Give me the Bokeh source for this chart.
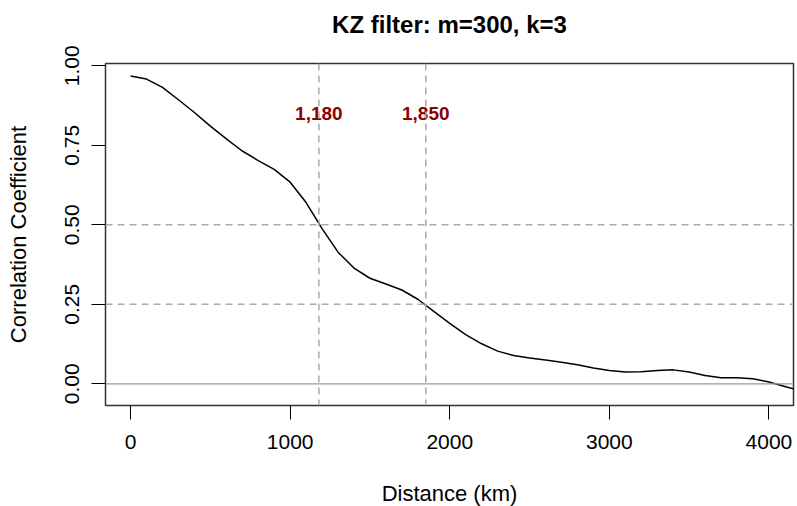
from bokeh.plotting import figure
from bokeh.models import Range1d, Span, FixedTicker, ColumnDataSource, NumeralTickFormatter, LinearAxis
from bokeh.core.properties import value
from bokeh.embed import file_html
from bokeh.resources import INLINE

# ---- data ----
distance_km = [0, 100, 200, 300, 400, 500, 600, 700, 800, 900, 1000, 1100, 1200, 1300,
               1400, 1500, 1600, 1700, 1800, 1900, 2000, 2100, 2200, 2300, 2400, 2500,
               2600, 2700, 2800, 2900, 3000, 3100, 3200, 3300, 3400, 3500, 3600, 3700,
               3800, 3900, 4000, 4100, 4200]
correlation = [0.968, 0.958, 0.932, 0.893, 0.853, 0.810, 0.770, 0.732, 0.702, 0.674,
               0.634, 0.570, 0.488, 0.414, 0.364, 0.332, 0.314, 0.295, 0.266, 0.228,
               0.190, 0.155, 0.126, 0.103, 0.089, 0.081, 0.075, 0.068, 0.060, 0.050,
               0.042, 0.037, 0.038, 0.042, 0.044, 0.037, 0.026, 0.019, 0.019, 0.016,
               0.006, -0.008, -0.022]
threshold_km = [1180, 1850]
threshold_labels = ["1,180", "1,850"]
threshold_corr = [0.5, 0.25]
x_ticks = [0, 1000, 2000, 3000, 4000]
y_ticks = [0.0, 0.25, 0.5, 0.75, 1.0]
title_text = "KZ filter: m=300, k=3"
x_label = "Distance (km)"
y_label = "Correlation Coefficient"

FONT = "Liberation Sans"

p = figure(frame_width=688, frame_height=342,
           x_range=Range1d(-157, 4154), y_range=Range1d(-0.068, 1.007),
           output_backend="svg", toolbar_location=None,
           min_border_left=105, min_border_right=3, min_border_top=63, min_border_bottom=99)
p.background_fill_color = "white"
p.border_fill_color = "white"
p.outline_line_color = "#333333"
p.outline_line_width = 1.5
p.xgrid.visible = False
p.ygrid.visible = False

xa = p.below[0]
ya = p.left[0]

for ax in (xa, ya):
    ax.axis_line_color = None
    ax.major_tick_line_color = "black"
    ax.major_tick_line_width = 1
    ax.major_tick_out = 14
    ax.major_tick_in = 0
    ax.minor_tick_line_color = None
    ax.major_label_text_font = FONT
    ax.major_label_text_font_size = "21px"
    ax.major_label_text_color = "black"
    ax.axis_label_text_font = FONT
    ax.axis_label_text_font_size = "22px"
    ax.axis_label_text_font_style = "normal"
    ax.axis_label_text_color = "black"

xa.ticker = FixedTicker(ticks=x_ticks)
ya.ticker = FixedTicker(ticks=y_ticks)
ya.formatter = NumeralTickFormatter(format="0.00")
ya.major_label_orientation = "vertical"
xa.axis_label = x_label
ya.axis_label = y_label
xa.major_label_standoff = 15
xa.axis_label_standoff = 29
ya.major_label_standoff = 12
ya.axis_label_standoff = 32

# title: an above axis that carries only its label (keeps the title well above the frame)
title_axis = LinearAxis(ticker=FixedTicker(ticks=[]), axis_label=title_text,
                        axis_line_color=None, major_tick_line_color=None,
                        minor_tick_line_color=None, major_tick_out=0, major_tick_in=0,
                        major_label_standoff=0, axis_label_standoff=26,
                        axis_label_text_font=FONT, axis_label_text_font_size="24px",
                        axis_label_text_font_style="bold", axis_label_text_color="black")
p.add_layout(title_axis, "above")

# reference lines
p.add_layout(Span(location=0, dimension="width", line_color="#999999", line_width=1.2))
for yv in threshold_corr:
    p.add_layout(Span(location=yv, dimension="width", line_color="#AAAAAA",
                      line_width=1.5, line_dash="7 5"))
for xv in threshold_km:
    p.add_layout(Span(location=xv, dimension="height", line_color="#AAAAAA",
                      line_width=1.5, line_dash="7 5"))

# curve
p.line(distance_km, correlation, line_color="black", line_width=1.5)

# threshold labels
lab_src = ColumnDataSource(dict(x=threshold_km, y=[0.85] * len(threshold_km), t=threshold_labels))
p.text(x="x", y="y", text="t", source=lab_src, text_font=value(FONT), text_font_size="19px",
       text_font_style="bold", text_color="#8B0000", text_align="center", text_baseline="middle")

open("out.html", "w").write(file_html(p, INLINE))
